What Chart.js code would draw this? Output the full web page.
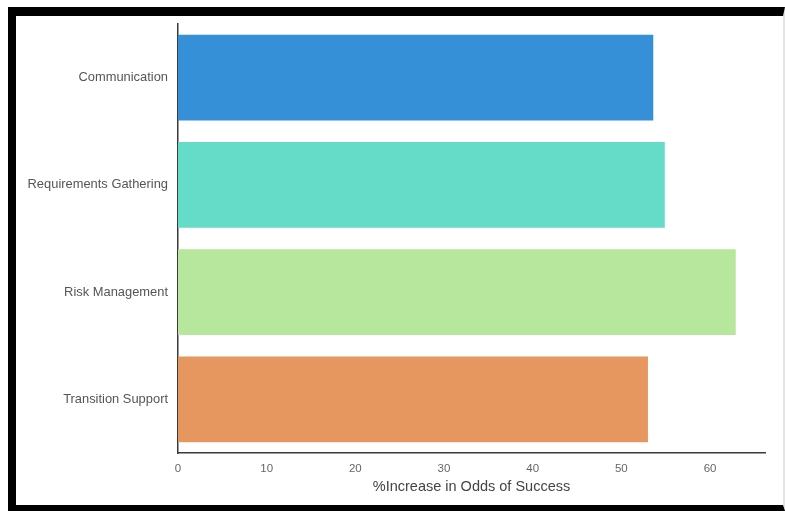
<!DOCTYPE html>
<html>
<head>
<meta charset="utf-8">
<script src="https://cdn.jsdelivr.net/npm/chart.js@4/dist/chart.umd.min.js"></script>
<style>
    html, body { margin: 0; padding: 0; background: #fff; }
    #wrap { position: relative; width: 785px; height: 511px; }
    #frame {
        position: absolute; left: 8px; top: 7px; right: 0; bottom: 0;
        box-sizing: border-box;
        border-top: 9px solid #000;
        border-left: 8px solid #000;
        border-bottom: 6px solid #000;
        border-right: 2px solid #e4e4e4;
        pointer-events: none;
    }
</style>
</head>
<body>
<div id="wrap">
    <canvas id="myChart" width="785" height="511"></canvas>
    <div id="frame"></div>
</div>
<script>
    // data
    var categories = ["Communication", "Requirements Gathering", "Risk Management", "Transition Support"];
    var oddsIncrease = [53.6, 54.9, 62.9, 53.0];
    var barColors = ["#3690d8", "#65dcc7", "#b7e69d", "#e6975f"];
    var xTitle = "%Increase in Odds of Success";

    var ctx = document.getElementById("myChart").getContext("2d");
    window.myChart = new Chart(ctx, {
        type: "bar",
        data: {
            labels: categories,
            datasets: [{
                data: oddsIncrease,
                backgroundColor: barColors,
                borderWidth: 0,
                categoryPercentage: 0.8,
                barPercentage: 1.0
            }]
        },
        options: {
            indexAxis: "y",
            responsive: false,
            animation: false,
            layout: { padding: { top: 24, right: 20, left: 0, bottom: 0 } },
            plugins: {
                legend: { display: false },
                tooltip: { enabled: false }
            },
            scales: {
                x: {
                    min: 0,
                    max: 66.2,
                    grid: { display: false, drawTicks: false, tickLength: 0 },
                    border: { display: true, color: "#3a3a3a", width: 1.5 },
                    ticks: {
                        stepSize: 10,
                        includeBounds: false,
                        padding: 9,
                        color: "#666",
                        font: { family: "Liberation Sans, Arial", size: 11.5 }
                    },
                    title: {
                        display: true,
                        text: xTitle,
                        color: "#444",
                        padding: { top: 2, bottom: 15 },
                        font: { family: "Liberation Sans, Arial", size: 14.5 }
                    },
                    afterFit: function (scale) { scale.height = 58; }
                },
                y: {
                    grid: { display: false, drawTicks: false, tickLength: 0 },
                    border: { display: true, color: "#3a3a3a", width: 1.5 },
                    ticks: {
                        padding: 10,
                        color: "#555",
                        font: { family: "Liberation Sans, Arial", size: 12.9 }
                    },
                    afterFit: function (scale) { scale.width = 178; }
                }
            }
        }
    });
</script>
</body>
</html>
